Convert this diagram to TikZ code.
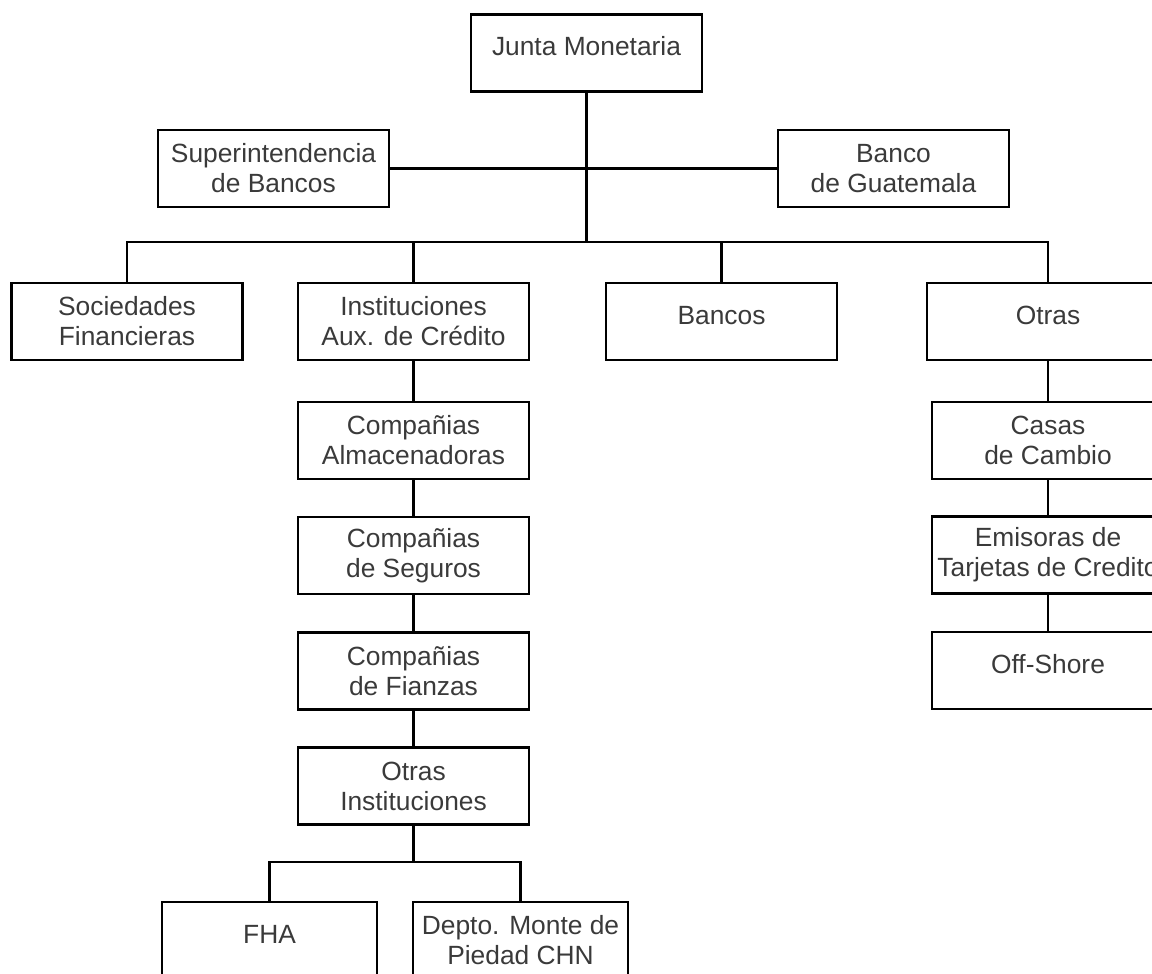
\documentclass[tikz,border=0pt]{standalone}
\usepackage{fontspec}
\setmainfont{Liberation Sans}
\usepackage{xcolor}
\definecolor{txtgray}{RGB}{58,58,58}
\tikzstyle{box}=[draw=black, line width=1.3pt, rectangle, inner sep=0pt, minimum width=4.62cm, minimum height=1.54cm, align=center, text=txtgray, font=\fontsize{15}{17}\selectfont]
\tikzstyle{oneline}=[text height=0.72em, text depth=0.38em]
\tikzstyle{link}=[line width=1.4pt, black]

\begin{document}
\begin{tikzpicture}[x=0.02cm, y=-0.02cm]
	\useasboundingbox (0,0) rectangle (1152,973);
	\node[box, oneline] (junta) at (586.5,53) {Junta Monetaria};
	\node[box] (super) at (273.5,168.5) {Superintendencia\\de Bancos};
	\node[box] (banco) at (893.5,168.5) {Banco\\de Guatemala};
	\node[box] (soc) at (127,321.5) {Sociedades\\Financieras};
	\node[box] (inst) at (413.5,321.5) {Instituciones\\Aux. de Crédito};
	\node[box, oneline] (bancos) at (721.5,321.5) {Bancos};
	\node[box, oneline, minimum width=4.84cm] (otras) at (1048,321.5) {Otras};
	\node[box] (almac) at (413.5,440.5) {Compañias\\Almacenadoras};
	\node[box] (seg) at (413.5,555.5) {Compañias\\de Seguros};
	\node[box] (fian) at (413.5,671) {Compañias\\de Fianzas};
	\node[box] (oinst) at (413.5,786) {Otras\\Instituciones};
	\node[box, minimum width=4.64cm] (casas) at (1048,440.5) {Casas\\de Cambio};
	\node[box, minimum width=4.64cm] (emis) at (1048,555) {Emisoras de\\Tarjetas de Credito};
	\node[box, oneline, minimum width=4.64cm] (off) at (1048,670.5) {Off-Shore};
	\node[box, oneline, minimum width=4.3cm] (fha) at (269.5,940.5) {FHA};
	\node[box, minimum width=4.3cm] (depto) at (520.5,940.5) {Depto. Monte de\\Piedad CHN};
	\coordinate (bus) at (586.5,242);
	\coordinate (bus2) at (413.5,862);
	\draw[link] (junta) -- (bus);
	\draw[link] (super) -- (banco);
	\draw[link] (soc.north) |- (bus) -| (otras.north);
	\draw[link] (inst.north) -- (inst.north |- bus);
	\draw[link] (bancos.north) -- (bancos.north |- bus);
	\draw[link] (inst) -- (almac) -- (seg) -- (fian) -- (oinst);
	\draw[link] (otras) -- (casas) -- (emis) -- (off);
	\draw[link] (oinst) -- (bus2);
	\draw[link] (fha.north) |- (bus2) -| (depto.north);
\end{tikzpicture}
\end{document}
